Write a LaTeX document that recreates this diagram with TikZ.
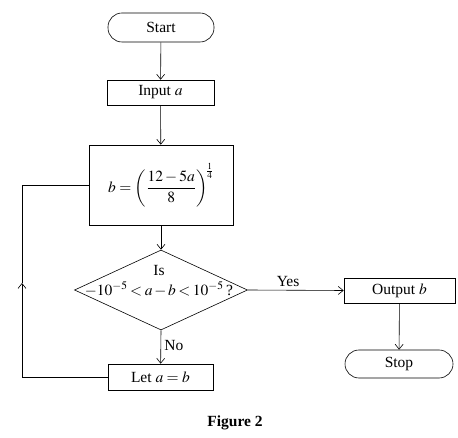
\documentclass[tikz,border=0pt]{standalone}
\usepackage{mathptmx}
\usepackage{fontspec}
\setmainfont{Liberation Serif}
\usetikzlibrary{shapes.geometric,arrows.meta}
\tikzset{
  terminal/.style={draw, rounded corners=14pt, minimum width=106pt, minimum height=29pt},
  process/.style={draw, minimum width=107pt, minimum height=25pt},
  decision/.style={draw, diamond, minimum width=173pt, minimum height=80pt, inner sep=0pt},
  flow/.style={-{Straight Barb[length=5pt,width=8pt]}}
}

\begin{document}
\begin{tikzpicture}[x=1pt, y=-1pt, line width=0.6pt, font=\fontsize{15.5}{19}\selectfont]
  \useasboundingbox (0,0) rectangle (458,438);

  \node[terminal] (start) at (161,27.5) {Start};
  \node[process] (input) at (160.5,92.5) {Input $a$};
  \node[process, minimum width=144pt, minimum height=80pt] (calc) at (161,185)
    {$\displaystyle b=\left(\frac{12-5a}{8}\right)^{\!\frac{1}{4}}$};
  \node[decision] (dec) at (161,290) {};
  \node[align=center, inner sep=0pt, yshift=9pt, xshift=-2pt] (ask) at (dec.center)
    {Is\\[1pt]$\thickmuskip=3mu\medmuskip=2mu -10^{-5}<a-b<10^{-5}$\,?};
  \node[process, minimum width=105pt, minimum height=26pt] (let) at (160.5,377) {Let $a=b$};
  \node[process, minimum width=111pt] (out) at (399.5,290.5) {Output $b$};
  \node[terminal, minimum width=108pt, minimum height=28pt] (stop) at (399,364) {Stop};

  % main flow
  \draw[flow] (start) -- (input);
  \draw[flow] (input) -- (calc);
  \draw[flow] (calc) -- (dec.north);
  \draw[flow] (dec.east) -- node[above, pos=0.42] {Yes} (out.west);
  \draw[flow] (out) -- (stop);
  \draw[flow] (dec.south) -- node[right, pos=0.47] {No} (let);

  % loop back
  \coordinate (loopb) at (22,377);
  \coordinate (loopm) at (22,283);
  \draw[flow] (let.west) -- (loopb) -- (loopm);
  \draw (loopm) |- (calc.west);

  \node[font=\bfseries\fontsize{15.5}{19}\selectfont] (cap) at (235,423) {Figure 2};
\end{tikzpicture}
\end{document}
